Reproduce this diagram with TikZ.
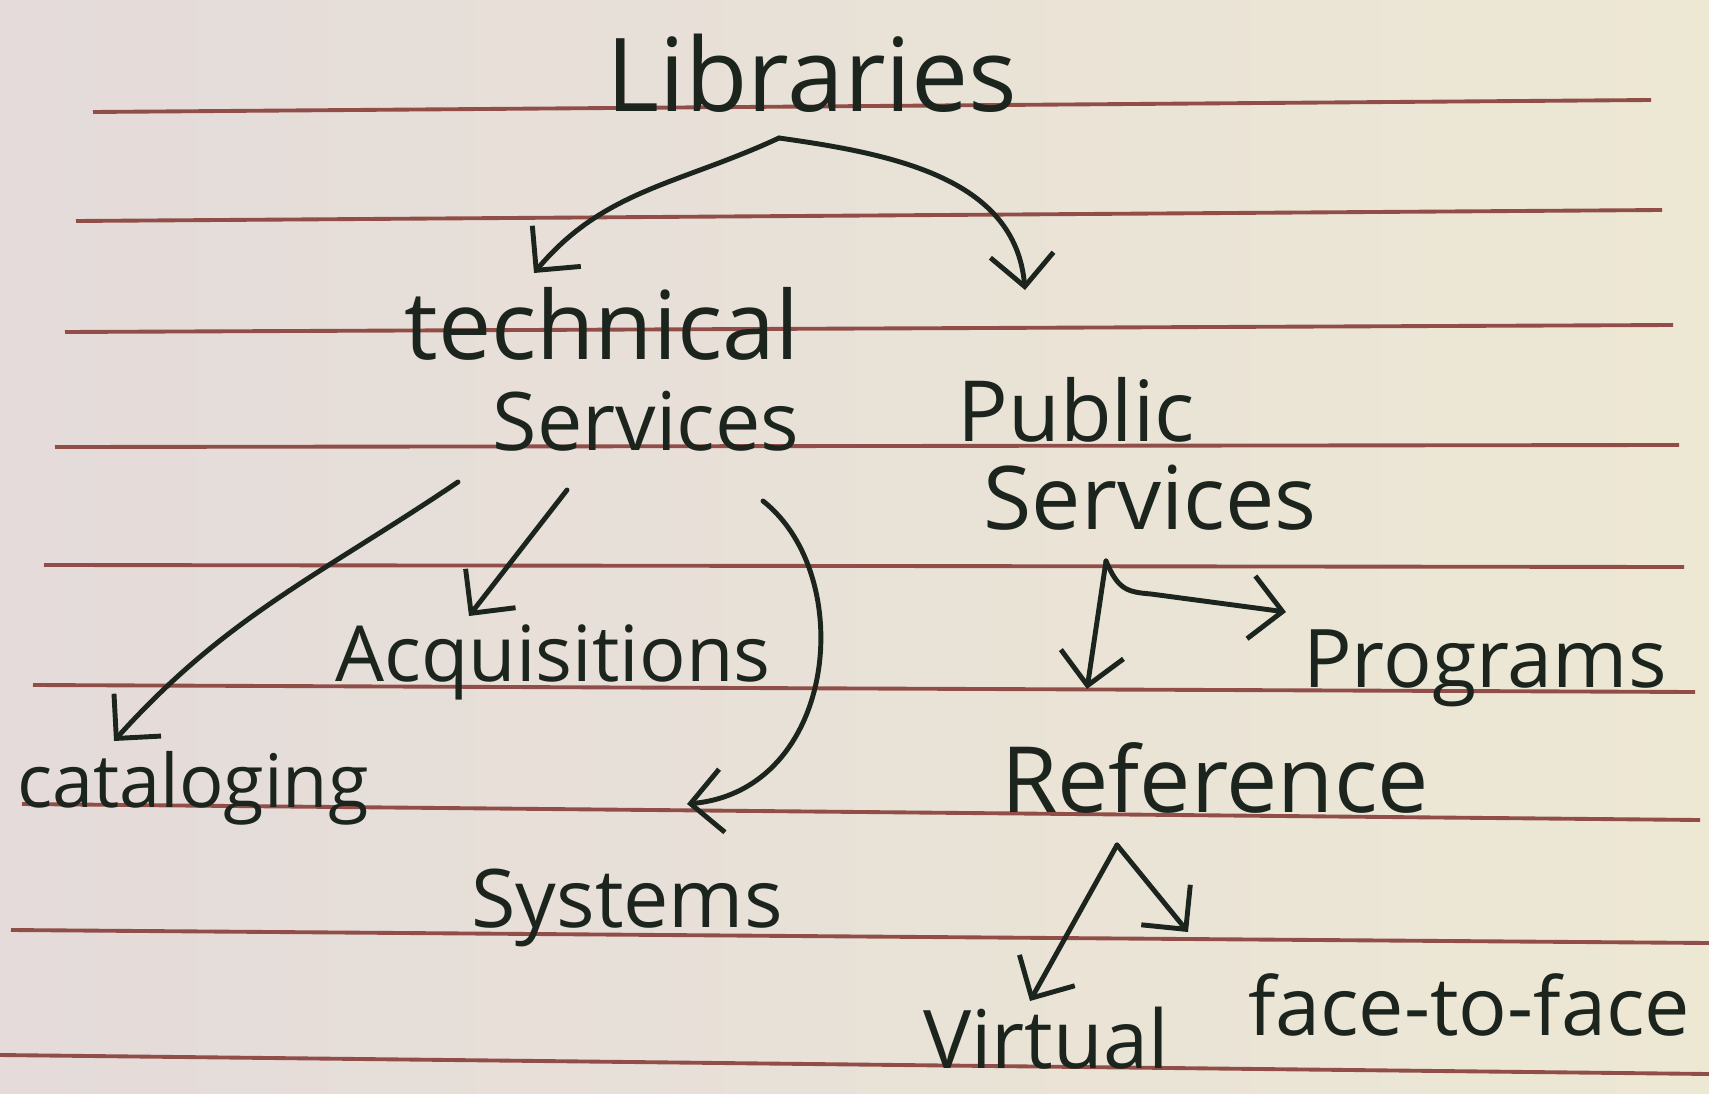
\documentclass[tikz,border=0pt]{standalone}
\usepackage{fontspec}
\setmainfont{Open Sans}
\usetikzlibrary{arrows.meta}
\definecolor{paperL}{RGB}{228,219,218}
\definecolor{paperM}{RGB}{218,227,215}
\definecolor{paperR}{RGB}{237,232,212}
\definecolor{rule}{RGB}{145,78,72}
\definecolor{ink}{RGB}{28,36,30}
\tikzset{
  lbl/.style={anchor=base, inner sep=1pt, text=ink},
  conn/.style={draw=ink, line width=1.4pt, line cap=round, line join=round,
    -{Straight Barb[length=9pt,width=18pt,line width=1.4pt]}},
  paperline/.style={draw=rule, line width=1.1pt}
}
\newcommand{\fs}[1]{\fontsize{#1}{#1}\selectfont}
\begin{document}
\begin{tikzpicture}[x=0.01cm,y=-0.01cm]
\useasboundingbox (0,0) rectangle (1709,1094);
\shade[left color=paperL, middle color=paperM, right color=paperR] (0,0) rectangle (1709,1094);
% ruled lines
\draw[paperline] (93,112) -- (1651,100);
\draw[paperline] (76,221) -- (1662,210);
\draw[paperline] (65,332) -- (1673,325);
\draw[paperline] (55,447) -- (1679,445);
\draw[paperline] (44,565) -- (1684,567);
\draw[paperline] (33,685) -- (1695,692);
\draw[paperline] (22,804) -- (1700,820);
\draw[paperline] (11,930) -- (1709,943);
\draw[paperline] (0,1055) -- (1709,1074);
% labels
\node[lbl, font=\fs{29}] (lib) at (812,112) {Libraries};
\node[lbl, font=\fs{27}] (tech) at (602,360) {technical};
\node[lbl, font=\fs{23}] (techsv) at (646,450) {Services};
\node[lbl, font=\fs{24}] (pub) at (1076,441) {Public};
\node[lbl, font=\fs{25}] (pubsv) at (1150,529) {Services};
\node[lbl, font=\fs{22}] (acq) at (553,681) {Acquisitions};
\node[lbl, font=\fs{21}] (cat) at (193,807) {cataloging};
\node[lbl, font=\fs{23}] (sys) at (627,927) {Systems};
\node[lbl, font=\fs{23}] (prog) at (1485,687) {Programs};
\node[lbl, font=\fs{26}] (ref) at (1215,812) {Reference};
\node[lbl, font=\fs{23}] (virt) at (1046,1068) {Virtual};
\node[lbl, font=\fs{23}] (face) at (1469,1035) {face-to-face};
% connectors
\draw[conn] ([shift={(-33,26)}]lib.base) to[out=205,in=50] ([shift={(-68,-87)}]tech.base);
\draw[conn] ([shift={(-33,26)}]lib.base) to[out=-8,in=95] ([shift={(-51,-151)}]pub.base);
\draw[conn] ([shift={(-188,32)}]techsv.base) to[out=214,in=48] ([shift={(-79,-66)}]cat.base);
\draw[conn] ([shift={(-79,40)}]techsv.base) -- ([shift={(-84,-65)}]acq.base);
\draw[conn] ([shift={(117,51)}]techsv.base) .. controls +(95,75) and +(150,-14) .. ([shift={(60,-123)}]sys.base);
\draw[conn] ([shift={(-44,32)}]pubsv.base) -- ([shift={(-128,-123)}]ref.base);
\draw[conn] ([shift={(-44,32)}]pubsv.base) .. controls +(12,28) and +(-25,-2) .. ++(45,33) -- ([shift={(-199,-75)}]prog.base);
\draw[conn] ([shift={(-98,33)}]ref.base) -- ([shift={(-16,-67)}]virt.base);
\draw[conn] ([shift={(-98,33)}]ref.base) -- ([shift={(-281,-103)}]face.base);
\end{tikzpicture}
\end{document}
